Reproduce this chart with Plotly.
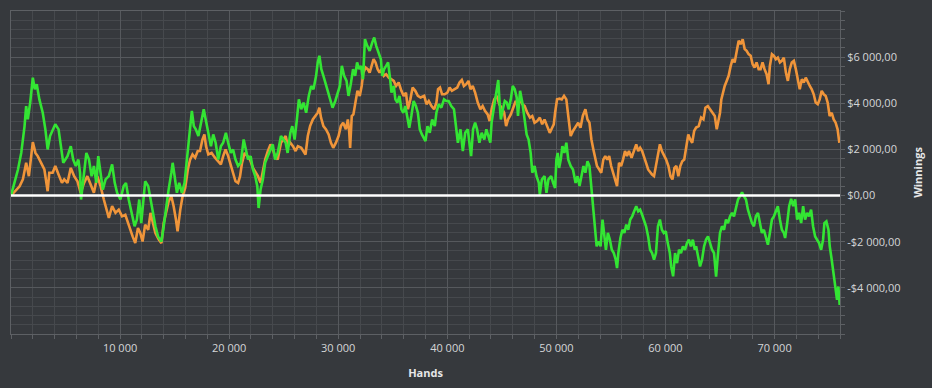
import plotly.graph_objects as go

# ---------------- data ----------------
green_hands = [0,330,640,940,1240,1390,1540,1760,2000,2180,2360,2600,2910,3150,3360,3580,3820,4060,4360,4570,4790,5180,5480,5700,5940,6180,6330,6420,6600,6910,7150,7390,7600,7820,8000,8210,8420,8670,8970,9270,9510,9730,10030,10330,10540,10790,11090,11330,11540,11760,11940,12150,12300,
    12580,12790,13000,13240,13480,13790,14000,14210,14450,14700,14820,15000,15210,15420,15670,15910,16120,16330,16580,16760,16940,17180,17420,17670,17850,18090,18330,18540,18760,19000,19240,19450,19700,19910,20150,20360,20580,20820,21060,21330,21510,21730,21970,22180,22390,22580,22700,22880,23090,23300,23550,23790,24000,24210,24450,24750,
    25180,25360,25610,25790,26000,26210,26390,26610,26820,27060,27300,27520,27730,27970,28120,28270,28450,28640,28820,29030,29240,29480,29730,29940,30150,30330,30540,30760,30940,31150,31360,31550,31730,31910,32090,32270,32450,32660,32880,33120,33300,33480,33730,33910,34030,34210,34390,34570,34760,34880,35090,35240,35420,35610,35790,35970,36150,36330,36510,36700,36910,37120,37300,37480,37670,
    38000,38180,38390,38610,38850,39000,39210,39450,39700,39910,40120,40360,40610,40820,40970,41210,41420,41640,41880,42060,42180,42360,42550,42730,42940,43150,43390,43580,43760,43940,44060,44240,44420,44550,44670,44790,44910,45090,45270,45450,45630,45820,46000,46180,46360,46480,46670,46880,47090,47270,47450,47640,47790,48000,48180,48390,48480,48670,48910,49090,49270,49520,49700,49880,50000,50120,
    50250,50400,50550,50730,50910,51090,51310,51520,51760,51940,52120,52300,52480,52660,52850,53030,53210,53330,53450,53570,53690,53870,54050,54230,54360,54540,54720,54900,55080,55260,55440,55560,55680,55870,56050,56230,56410,56590,56770,56950,57130,57320,57500,57680,57860,58040,58220,58410,58590,58770,58950,59130,59310,59490,59670,59850,60030,60210,60400,60520,60700,60880,61060,61240,61420,61600,61790,61970,62150,62330,62510,62690,
    62810,62990,63170,63350,63540,63720,63900,64090,64270,64450,64640,64820,65000,65180,65370,65550,65730,65920,66100,66280,66470,66650,66830,67020,67200,67380,67560,67750,67930,68110,68290,68480,68660,68840,69020,69210,69390,69570,69760,69940,70120,70300,70490,70670,70850,70970,71160,71340,71520,71710,71890,72070,72250,72440,72620,72800,72990,73170,73350,73530,73720,73900,74080,74270,74450,74570,74750,74940,75060,75240,75420,75550,75730,75850,75970]
green_win = [0,550,1130,1850,3000,3880,3300,4030,5110,4610,4830,4170,3590,2870,2000,2580,2800,3090,2870,2140,1420,1710,2140,1560,1280,1560,990,-170,550,1850,1560,840,1280,550,1710,990,260,700,840,1350,550,120,-170,410,550,-170,-750,-1330,-1040,-170,-1190,-170,620,
    410,-170,-750,-1330,-1770,-1990,-1330,-460,260,990,1420,840,120,550,120,550,1560,2720,3670,3010,2870,2580,3160,3740,3300,2650,2140,2650,2290,1560,2140,2290,2720,2290,1850,2000,1560,1280,1420,2430,2000,1560,1710,1130,840,410,-540,260,700,1420,1710,2000,2220,1560,1850,2580,
    2290,1850,2720,3010,2430,3300,4170,3740,4030,3590,4320,4750,4610,5190,5770,6060,5480,5190,4900,4460,4170,3810,4100,4390,4750,5620,5190,4970,4320,4830,5480,5190,5770,5480,5620,5040,6780,6490,6270,6640,6850,6490,6200,5910,5190,5480,5620,5770,5040,4460,4750,4170,4030,4320,3740,3590,3880,3300,2940,3450,4100,3880,3590,2870,2650,
    2360,3010,2720,3300,3010,3590,3960,3810,4170,4100,4100,3880,3740,3010,2290,2870,1930,2720,2870,2140,1710,2870,3160,2870,2290,2720,2430,2870,2580,2290,3160,3740,4170,4750,5010,4030,3300,3740,4100,4030,3740,4170,4750,4610,4250,3450,4540,4030,3300,2650,2430,1850,990,1280,840,550,40,700,840,120,700,840,550,330,1560,1850,
    1200,1560,2140,1850,2290,1560,1280,1130,550,840,410,840,1280,990,1490,1280,260,-460,-1040,-1480,-2200,-1990,-2200,-1040,-1620,-2350,-1620,-1910,-2350,-2490,-2780,-3140,-2490,-1840,-1480,-1620,-1260,-1480,-1040,-900,-680,-460,-680,-610,-830,-1040,-1330,-1770,-2350,-2490,-2780,-2490,-1330,-1040,-1480,-1620,-1550,-2060,-2490,-3070,-3500,-2490,-2930,-2350,-2490,-2200,-2350,-2060,-1910,-2200,-1910,-2350,
    -2200,-2640,-3070,-2780,-2200,-1910,-1770,-2060,-2350,-2490,-3510,-2490,-1620,-1330,-1480,-1040,-1190,-900,-750,-900,-460,-170,-30,140,-30,-170,-610,-900,-1190,-1330,-900,-750,-1190,-1620,-1480,-1770,-2130,-1620,-1040,-900,-680,-460,-1040,-1480,-1620,-1840,-1190,-460,-140,-460,-170,-1040,-750,-1190,-460,-1040,-750,-900,-610,-1330,-1770,-1910,-2060,-2350,-1910,-1190,-1120,-1480,-2200,-2780,-3510,-3940,-4520,-3940,-4740]

orange_hands = [0,480,790,1090,1390,1640,1850,2000,2240,2450,2760,3060,3360,3510,3820,4060,4360,4670,4880,5180,5480,5790,6090,6390,6700,7000,7300,7600,7910,8210,8510,8730,8970,9270,9580,9880,10180,10480,10850,11150,11390,11640,11850,12060,12300,
    12580,12790,13000,13240,13550,13790,14000,14210,14450,14700,14910,15120,15270,15520,15730,15970,16210,16420,16640,16880,17120,17330,17550,17730,17880,18090,18390,18700,19000,19240,19450,19670,19910,20150,20360,20580,20820,21000,21180,21420,21670,21910,22180,22420,22640,22880,23090,23300,23550,23790,24000,24210,24450,24750,
    25180,25390,25610,25850,26090,26300,26610,26820,27000,27210,27420,27670,27910,28120,28270,28420,28640,28880,29120,29330,29540,29790,30030,30240,30450,30700,30880,31000,31090,31240,31390,31550,31760,31970,32150,32300,32510,32700,32880,33060,33240,33420,33610,33790,33970,34180,34390,34640,34880,35090,35300,35540,35790,36000,36210,36390,36610,36820,37060,37300,37550,
    37880,38090,38300,38550,38790,39000,39150,39330,39520,39760,40000,40210,40420,40670,40910,41120,41330,41520,41730,41940,42120,42330,42550,42790,43030,43240,43450,43700,43880,44060,44300,44550,44760,44970,45210,45390,45570,45820,46060,46270,46480,46670,46880,47090,47330,47580,47790,48000,48240,48480,48700,48910,49150,49390,49610,49760,49880,50060,
    50300,50490,50700,50910,51090,51310,51520,51760,52000,52210,52420,52660,52850,53030,53210,53390,53570,53720,53930,54110,54300,54480,54660,54840,55020,55200,55380,55560,55740,55930,56110,56290,56470,56650,56890,57130,57320,57500,57680,57860,58040,58220,58410,58590,58770,58950,59130,59310,59490,59670,59850,60060,60270,60460,60640,60820,61000,61180,61360,61540,61720,61910,62090,62270,62450,62630,
    62810,63050,63270,63480,63660,63880,64090,64330,64520,64700,64880,65000,65120,65250,65430,65610,65790,65980,66160,66340,66520,66710,66890,67080,67260,67440,67620,67810,67990,68170,68350,68540,68720,68900,69080,69270,69450,69570,69760,69940,70120,70300,70490,70670,70850,71040,71220,71400,71580,71770,71950,72130,72310,72500,72680,72860,73040,73230,73410,73590,73770,73960,74140,74320,74510,74690,74870,75050,75240,75420,75600,75780,75940]
orange_win = [0,260,400,700,1420,840,1850,2320,1850,1710,1420,1130,190,990,990,1280,910,550,700,550,1200,840,620,120,550,840,480,120,840,410,-170,-610,-970,-460,-750,-610,-900,-830,-1410,-1770,-2060,-1410,-1620,-1990,-1260,
    -1480,-750,-1190,-1620,-1910,-2060,-1190,-750,-250,-30,-460,-1040,-1550,-610,-30,330,1130,1560,1780,1640,1930,1930,2430,2650,2140,1780,1850,1640,1490,1350,1710,2000,1710,1280,990,620,550,840,1420,1850,1710,1560,1200,990,840,550,990,1560,1930,2220,2000,1710,1560,2290,
    2580,2140,2290,2140,1930,2140,2070,1930,1780,2580,3010,3300,3450,3590,3810,3380,3010,2870,2650,2290,2070,2290,2580,3010,3160,2870,3300,2800,2070,3450,3520,4030,4540,4320,4750,5330,5550,5480,5330,5620,5910,5770,5480,5330,5480,5190,5260,5110,5040,4970,4750,4900,4540,4320,4460,3740,4170,4680,4540,4320,4250,
    4320,3960,4100,3880,3740,4030,4610,4680,4390,4390,4460,4680,4540,4610,4680,4900,5010,4750,4830,4970,4610,4750,4460,4030,3740,3880,3670,3520,3230,3740,4170,4320,3960,3810,3590,3010,3300,3520,3880,4100,3960,4170,3960,3880,3590,3380,3450,3160,3230,3380,3090,3300,3010,2720,2940,3090,3590,4170,
    4200,4170,4320,4170,3450,2580,2800,3010,3160,2940,3450,3740,3300,3160,2430,2000,1560,1280,1130,990,1560,1710,1560,1710,1280,990,700,410,1420,1280,1560,1930,1710,1930,1640,1930,2220,1930,2070,1930,1710,1420,1130,990,910,840,1280,1850,2220,1930,1780,1560,1280,840,700,1200,1280,840,1280,1490,1560,2140,2650,2430,2290,2800,
    2950,3010,3380,3300,3810,3880,3740,3590,3450,2870,3380,3590,4170,4460,4750,4970,5190,5620,5910,5770,6200,6710,6560,6780,6350,6270,6130,6060,5690,5550,5770,5480,5480,5770,5480,5260,4830,5620,6130,6060,5910,5980,5770,5840,5980,5330,4970,5480,5770,5840,5480,5040,4610,5040,4900,5110,4900,4750,4610,4390,4030,3960,4170,4540,4390,4320,4030,3450,3590,3300,3160,2870,2290]

x_tick_vals = [10000, 20000, 30000, 40000, 50000, 60000, 70000]
x_tick_text = ["10 000", "20 000", "30 000", "40 000", "50 000", "60 000", "70 000"]
y_tick_vals = [-4000, -2000, 0, 2000, 4000, 6000]
y_tick_text = ["-$4 000,00", "-$2 000,00", "$0,00", "$2 000,00", "$4 000,00", "$6 000,00"]

# ---------------- style ----------------
BG = "#36393d"
MAJOR_GRID = "#56595d"
MINOR_GRID = "#46494d"
AXLINE = "#5d6064"
TXT = "#d4d6d8"
FONT = "Open Sans"

fig = go.Figure()
fig.add_trace(go.Scatter(x=orange_hands, y=orange_win, mode="lines",
                         line=dict(color="#f0953a", width=2.6), hoverinfo="skip"))
fig.add_trace(go.Scatter(x=green_hands, y=green_win, mode="lines",
                         line=dict(color="#33e533", width=2.6), hoverinfo="skip"))

# zero reference line drawn above the series
fig.add_shape(type="line", xref="paper", x0=0, x1=1, yref="y", y0=0, y1=0,
              line=dict(color="#ffffff", width=2.5), layer="above")

fig.update_layout(
    width=932, height=388,
    margin=dict(l=10, r=91, t=10, b=53),
    paper_bgcolor=BG, plot_bgcolor=BG,
    showlegend=False,
    font=dict(family=FONT, size=11, color=TXT),
    xaxis=dict(
        range=[0, 76000],
        tickmode="array", tickvals=x_tick_vals, ticktext=x_tick_text,
        showgrid=True, gridcolor=MAJOR_GRID, gridwidth=1,
        ticks="outside", ticklen=4, tickcolor=AXLINE,
        minor=dict(tickmode="linear", tick0=0, dtick=2000, showgrid=True,
                   gridcolor=MINOR_GRID, ticks="outside", ticklen=4, tickcolor=AXLINE),
        showline=True, linecolor=AXLINE, linewidth=1, mirror=True,
        zeroline=False,
        tickfont=dict(size=11, color=TXT),
        title=dict(text="<b>Hands</b>", font=dict(size=11, color="#e6e7e8"), standoff=15),
    ),
    yaxis=dict(
        side="right",
        range=[-6000, 8000],
        tickmode="array", tickvals=y_tick_vals, ticktext=y_tick_text,
        showgrid=True, gridcolor=MAJOR_GRID, gridwidth=1,
        ticks="outside", ticklen=4, tickcolor=AXLINE,
        minor=dict(tickmode="linear", tick0=0, dtick=400, showgrid=True,
                   gridcolor=MINOR_GRID, ticks="outside", ticklen=4, tickcolor=AXLINE),
        showline=True, linecolor=AXLINE, linewidth=1, mirror=True,
        zeroline=False,
        tickfont=dict(size=11, color=TXT),
        title=dict(text="<b>Winnings</b>", font=dict(size=11, color="#e6e7e8"), standoff=14),
    ),
)

fig.write_html("out.html")
